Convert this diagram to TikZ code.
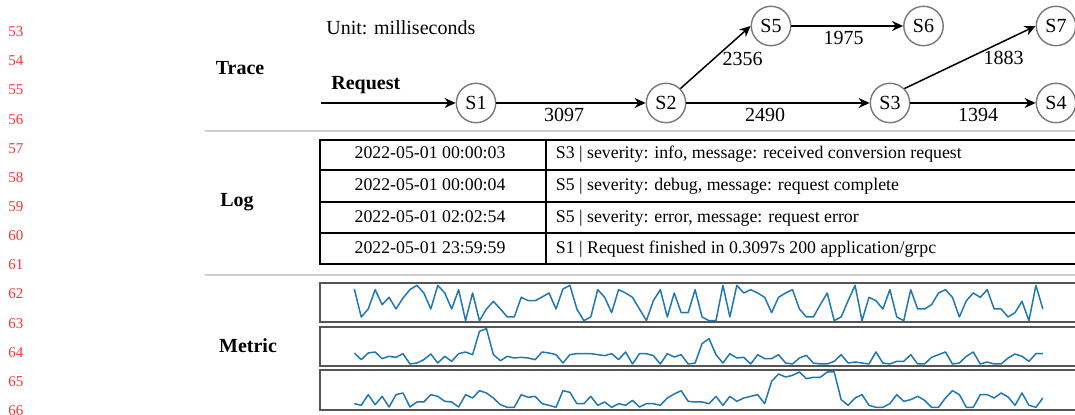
\documentclass[tikz,border=0pt]{standalone}
\usepackage{fontspec}
\setmainfont{Liberation Serif}
\usetikzlibrary{arrows.meta}
\definecolor{lnred}{RGB}{255,50,50}
\definecolor{mblue}{RGB}{31,119,180}
\definecolor{sepgray}{RGB}{205,205,205}
\definecolor{circgray}{RGB}{120,120,120}
\definecolor{boxgray}{RGB}{85,85,85}
\def\dataA{33,117,93,35,80,58,93,60,35,22,45,93,22,45,93,35,128,45,128,93,70,93,117,117,58,68,68,57,45,93,33,22,93,128,117,35,58,104,35,45,58,93,128,68,35,117,45,104,104,35,117,128,128,22,117,22,45,35,45,58,104,58,45,35,93,117,117,80,45,128,117,68,22,128,58,68,93,35,117,128,35,93,93,80,45,35,58,117,68,45,58,35,93,93,117,104,70,128,22,93}
\def\dataB{225,245,225,222,242,235,238,227,258,255,245,228,255,235,250,227,222,230,160,152,230,248,235,240,238,240,245,222,225,230,255,230,227,227,227,230,233,227,245,222,258,227,227,233,258,227,237,230,258,255,197,182,230,255,227,240,238,258,230,242,242,230,255,258,240,232,255,258,258,250,230,255,252,255,258,222,255,258,250,250,230,258,258,238,230,222,258,255,235,222,258,252,258,258,240,228,235,250,227,227}
\def\dataC{377,382,350,380,355,387,350,345,387,372,372,350,355,370,372,387,350,360,338,345,360,380,388,388,350,358,355,377,382,388,338,343,377,377,355,382,372,388,377,382,367,387,377,377,382,360,348,338,370,372,372,377,355,382,355,370,360,355,350,377,310,288,297,292,282,302,298,298,282,282,365,382,360,350,382,388,388,377,350,370,365,355,367,388,388,360,338,350,388,388,350,350,360,345,357,382,345,382,388,360}
\begin{document}
\begin{tikzpicture}[x=0.5pt,y=-0.5pt,
  svc/.style={circle, draw=circgray, line width=0.7pt, minimum size=19.7pt, inner sep=0pt, font=\fontsize{10}{12}\selectfont},
  flow/.style={-{Stealth[length=5.5pt,width=5pt]}, line width=0.75pt, draw=black},
  elabel/.style={anchor=base, inner sep=0pt, font=\fontsize{10}{12}\selectfont},
  sectlabel/.style={anchor=base, inner sep=0pt, font=\bfseries\fontsize{10}{12}\selectfont},
  lineno/.style={text=lnred, inner sep=0pt, font=\fontsize{7.5}{9}\selectfont},
  sepline/.style={draw=sepgray, line width=1pt},
  logline/.style={draw=black, line width=0.6pt},
  logtext/.style={anchor=base, inner sep=0pt, font=\fontsize{8.9}{10.5}\selectfont},
  chartbox/.style={draw=boxgray, line width=0.8pt},
  metricline/.style={draw=mblue, line width=0.75pt, line join=round}
]
\useasboundingbox (0,0) rectangle (1075,415);
\clip (0,0) rectangle (1075,415);
% line numbers
\foreach \n [count=\k from 0] in {53,...,66}
  \node[lineno] (ln\n) at (16,{31.7+\k*29.15}) {\n};
% section labels
\node[sectlabel] (trace) at (240,75) {Trace};
\node[sectlabel] (log) at (237,206.5) {Log};
\node[sectlabel] (metric) at (248,352.5) {Metric};
% separators
\draw[sepline] (205,131.5) -- (1075,131.5);
\draw[sepline] (205,275) -- (1075,275);
% trace
\node[anchor=base west, inner sep=0pt] (unit) at (326,34.5) {Unit: milliseconds};
\node[anchor=base west, inner sep=0pt, font=\bfseries] (reqlabel) at (331,90) {Request};
\node[svc] (S1) at (476,103) {S1};
\node[svc] (S2) at (666,103) {S2};
\node[svc] (S3) at (890,103) {S3};
\node[svc] (S4) at (1056,103) {S4};
\node[svc] (S5) at (771,26) {S5};
\node[svc] (S6) at (923.5,26) {S6};
\node[svc] (S7) at (1056,26) {S7};
\coordinate (req) at (321,103);
\draw[flow] (req) -- (S1);
\draw[flow] (S1) -- (S2);
\draw[flow] (S2) -- (S3);
\draw[flow] (S3) -- (S4);
\draw[flow] (S2.north east) -- (S5.west);
\draw[flow] (S5) -- (S6);
\draw[flow] (S3.north east) -- (S7.west);
\node[elabel] (l3097) at (564,121.5) {3097};
\node[elabel] (l2490) at (765,121.5) {2490};
\node[elabel] (l1394) at (978,121.5) {1394};
\node[elabel] (l2356) at (742.5,66) {2356};
\node[elabel] (l1975) at (843.7,45) {1975};
\node[elabel] (l1883) at (1003.7,65) {1883};
% log table
\draw[logline] (320,140) rectangle (1100,264);
\draw[logline] (320,170) -- (1100,170);
\draw[logline] (320,202) -- (1100,202);
\draw[logline] (320,233) -- (1100,233);
\draw[logline] (546,140) -- (546,264);
\node[logtext] (d1) at (430,158.8) {2022-05-01 00:00:03};
\node[logtext] (d2) at (430,190.5) {2022-05-01 00:00:04};
\node[logtext] (d3) at (430,222.2) {2022-05-01 02:02:54};
\node[logtext] (d4) at (430,253.8) {2022-05-01 23:59:59};
\node[logtext, anchor=base west] (m1) at (555.5,158.8) {S3 | severity: info, message: received conversion request};
\node[logtext, anchor=base west] (m2) at (555.5,190.5) {S5 | severity: debug, message: request complete};
\node[logtext, anchor=base west] (m3) at (555.5,222.2) {S5 | severity: error, message: request error};
\node[logtext, anchor=base west] (m4) at (555.5,253.8) {S1 | Request finished in 0.3097s 200 application/grpc};
% metric charts
\draw[chartbox] (320,283) rectangle (1100,322);
\draw[chartbox] (320,327) rectangle (1100,366);
\draw[chartbox] (320,370) rectangle (1100,410);
\draw[metricline] (354.3,{278+33/3}) \foreach \v [count=\i from 0] in \dataA {-- ({354.3+\i*6.955},{278+\v/3})};
\draw[metricline] (354.3,{278+225/3}) \foreach \v [count=\i from 0] in \dataB {-- ({354.3+\i*6.955},{278+\v/3})};
\draw[metricline] (354.3,{278+377/3}) \foreach \v [count=\i from 0] in \dataC {-- ({354.3+\i*6.955},{278+\v/3})};
\end{tikzpicture}
\end{document}
